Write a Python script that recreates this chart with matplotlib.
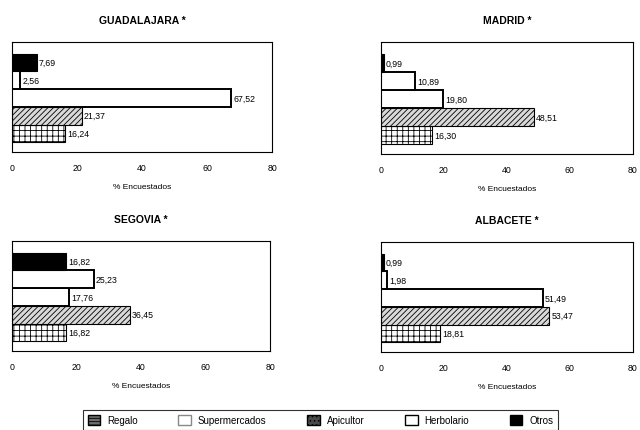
import matplotlib
matplotlib.use("Agg")
import matplotlib.pyplot as plt
from matplotlib.patches import Patch

plt.rcParams['font.family'] = ['Liberation Sans', 'DejaVu Sans']
plt.rcParams['hatch.linewidth'] = 0.6

categories = ["Regalo", "Supermercados", "Apicultor", "Herbolario", "Otros"]
regions = ["GUADALAJARA *", "MADRID *", "SEGOVIA *", "ALBACETE *"]

guadalajara = [16.24, 21.37, 67.52, 2.56, 7.69]
madrid = [16.30, 48.51, 19.80, 10.89, 0.99]
segovia = [16.82, 36.45, 17.76, 25.23, 16.82]
albacete = [18.81, 53.47, 51.49, 1.98, 0.99]
series = [guadalajara, madrid, segovia, albacete]

xticks = [0, 20, 40, 60, 80]
xlabel = "% Encuestados"

# bar styles per category
bar_face = ["white", "#d9d9d9", "white", "white", "black"]
bar_hatch = ["+++", "//////", "", "", ""]
bar_lw = [0.8, 0.8, 1.4, 1.4, 0.8]

fig = plt.figure(figsize=(6.4, 4.31), dpi=100)

positions = [
    [0.019, 0.645, 0.406, 0.255],
    [0.595, 0.640, 0.394, 0.260],
    [0.019, 0.183, 0.403, 0.255],
    [0.595, 0.181, 0.394, 0.255],
]

for title, vals, pos in zip(regions, series, positions):
    ax = fig.add_axes(pos)
    ys = list(range(len(categories)))
    for y, v, fc, h, lw in zip(ys, vals, bar_face, bar_hatch, bar_lw):
        ax.barh(y, v, height=1.0, color=fc, edgecolor="black", hatch=h, linewidth=lw)
        ax.text(v + 0.6, y, f"{v:.2f}".replace(".", ","), va="center", ha="left",
                fontsize=6.3)
    ax.set_xlim(0, 80)
    ax.set_ylim(-1.05, 5.15)
    ax.set_xticks(xticks)
    ax.set_xticklabels([str(t) for t in xticks], fontsize=6.3)
    ax.set_yticks([])
    ax.tick_params(axis="x", length=0, pad=8)
    for s in ax.spines.values():
        s.set_linewidth(0.8)
    ax.set_xlabel(xlabel, fontsize=6, labelpad=8)
    ax.set_title(title, fontsize=7.5, fontweight="bold", pad=14)

handles = [
    Patch(facecolor="#6e6e6e", edgecolor="black", hatch="-----", label="Regalo"),
    Patch(facecolor="white", edgecolor="#888888", label="Supermercados"),
    Patch(facecolor="#4a4a4a", edgecolor="black", hatch="....", label="Apicultor"),
    Patch(facecolor="white", edgecolor="black", label="Herbolario"),
    Patch(facecolor="black", edgecolor="black", label="Otros"),
]
leg = fig.legend(handles=handles, loc="lower left", ncol=5, fontsize=7,
                 bbox_to_anchor=(78 / 640, -0.012, 485 / 640, 0.06), mode="expand",
                 frameon=True, fancybox=False, edgecolor="black",
                 handlelength=1.3, handleheight=1.3, borderpad=0.5,
                 handletextpad=0.7)
leg.get_frame().set_linewidth(0.8)

fig.savefig("out.png", dpi=100, facecolor="white")
